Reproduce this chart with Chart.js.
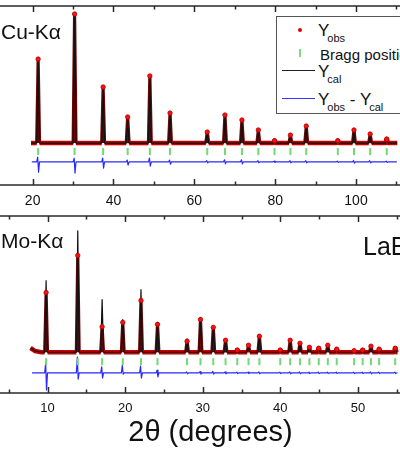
<!DOCTYPE html>
<html>
<head>
<meta charset="utf-8">
<script src="https://cdn.jsdelivr.net/npm/chart.js@4.4.1/dist/chart.umd.min.js"></script>
<style>
  html, body { margin: 0; padding: 0; background: #fff; }
  body { width: 400px; height: 450px; position: relative; overflow: hidden;
         font-family: "Liberation Sans", Arial, sans-serif; color: #111; }
  canvas { position: absolute; left: -40px; }
  #cuChart { top: 0; }
  #moChart { top: 210px; }
  .lbl { position: absolute; white-space: nowrap; line-height: 1; }
  .lbl sub { line-height: 0; }
  .leg sub { font-size: 11px; vertical-align: -6px; margin-left: -2px; }
  .legbox { position: absolute; left: 276px; top: 16px; width: 150px; height: 96px;
            border: 1px solid #555; background: #fff; }
  .mk { position: absolute; display: block; }
</style>
</head>
<body>
<canvas id="cuChart" width="500" height="212"></canvas>
<canvas id="moChart" width="500" height="240"></canvas>

<div class="lbl" style="left:1px; top:21px; font-size:21px">Cu-Kα</div>
<div class="lbl" style="left:1px; top:230px; font-size:21px">Mo-Kα</div>
<div class="lbl" style="left:363px; top:234px; font-size:25px">LaB<sub>6</sub></div>

<div class="legbox"></div>
<span class="mk" style="left:298px; top:28px; width:4px; height:4px; background:#e00000; border-radius:50%"></span>
<span class="mk" style="left:299px; top:49px; width:2px; height:8px; background:#7fdc7f"></span>
<span class="mk" style="left:282px; top:70px; width:33px; height:1px; background:#222"></span>
<span class="mk" style="left:282px; top:98px; width:33px; height:1px; background:#3535ff"></span>
<div class="lbl leg" style="left:318px; top:22px; font-size:17px">Y<sub>obs</sub></div>
<div class="lbl leg" style="left:320px; top:47px; font-size:15px">Bragg positions</div>
<div class="lbl leg" style="left:318px; top:63px; font-size:17px">Y<sub>cal</sub></div>
<div class="lbl leg" style="left:318px; top:91px; font-size:17px">Y<sub>obs</sub> - Y<sub>cal</sub></div>

<script>
// Cu-Ka pattern (LaB6 reflections), intensities in arbitrary units
const cuPeaks = [21.36, 30.38, 37.44, 43.51, 49.0, 53.99, 63.2, 67.58, 71.78, 75.84, 79.84, 83.77, 87.69, 95.5, 99.5, 103.5, 107.6];
const cuObs = [641, 985, 428, 199, 512, 229, 84, 214, 176, 100, 18, 61, 130, 18, 100, 69, 31];
const cuCal = [618, 992, 405, 176, 481, 214, 80, 195, 165, 95, 18, 58, 125, 18, 95, 65, 30];
const cuDiffUp = [36, 28, 28, 13, 28, 13, 8, 15, 15, 8, 5, 8, 8, 5, 10, 8, 5];
const cuDiffDown = [-79, -86, -48, -25, -33, -18, -8, -15, -15, -8, -5, -8, -8, -5, -10, -8, -5];
const cuBackground = [[19.6, 0], [110.2, 0]];
const cuTicks = [20, 40, 60, 80, 100];

// Mo-Ka pattern
const moPeaks = [9.81, 13.89, 17.03, 19.69, 22.04, 24.17, 27.98, 29.71, 31.36, 32.94, 34.45, 35.9, 37.3,
                 39.99, 41.27, 42.53, 43.75, 44.95, 46.12, 47.27, 49.51, 50.61, 51.68, 52.74, 54.81];
const moObs = [492, 798, 210, 246, 427, 230, 91, 270, 205, 99, 18, 58, 132,
               18, 99, 74, 41, 33, 58, 25, 12, 18, 50, 25, 33];
const moCal = [590, 1000, 434, 270, 516, 246, 110, 285, 215, 105, 20, 62, 140,
               20, 105, 80, 45, 36, 62, 28, 14, 20, 54, 28, 36];
const moDiffUp = [80, 129, 49, 63, 55, 22, 8, 10, 12, 8, 6, 6, 8, 6, 8, 8, 6, 6, 6, 6, 6, 6, 8, 6, 6];
const moDiffDown = [-142, -52, -43, -11, -43, -33, -8, -10, -10, -8, -6, -6, -8, -6, -8, -8, -6, -6, -6, -6, -6, -6, -8, -6, -6];
const moBackground = [[7.8, 35], [8.4, 10], [9.2, 0], [55.1, 0]];
const moTicks = [10, 20, 30, 40, 50];

// profile: baseline points + one narrow triangle per reflection
function buildProfile(peaks, heights, hw, background) {
    const pts = background.map(([x, y]) => ({ x, y }));
    peaks.forEach((p, i) => {
        pts.push({ x: p - hw, y: 0 }, { x: p, y: heights[i] }, { x: p + hw, y: 0 });
    });
    return pts.sort((a, b) => a.x - b.x);
}

function buildDiff(peaks, up, down, hw, offset, range) {
    const pts = [{ x: range[0], y: offset }, { x: range[1], y: offset }];
    peaks.forEach((p, i) => {
        pts.push({ x: p - hw, y: offset }, { x: p - hw * 0.3, y: offset + up[i] },
                 { x: p + hw * 0.3, y: offset + down[i] }, { x: p + hw, y: offset });
    });
    return pts.sort((a, b) => a.x - b.x);
}

// peak flanks of the observed curve are drawn darker than the baseline band
const onPeak = ctx => ctx.p0.parsed.y > 40 || ctx.p1.parsed.y > 40;

// box around the plot with inward ticks on top and bottom
const frameTicks = {
    id: 'frameTicks',
    afterDatasetsDraw(chart, args, opts) {
        const { ctx, chartArea: a, scales: { x } } = chart;
        ctx.save();
        ctx.strokeStyle = '#2a2a2a';
        ctx.lineWidth = 1.5;
        ctx.strokeRect(a.left, a.top, a.right - a.left, a.bottom - a.top);
        ctx.beginPath();
        for (let k = Math.ceil(x.min / opts.step); k * opts.step <= x.max; k++) {
            const v = k * opts.step;
            const px = Math.round(x.getPixelForValue(v)) + 0.5;
            const len = opts.major.includes(v) ? 6 : 3.5;
            ctx.moveTo(px, a.bottom); ctx.lineTo(px, a.bottom - len);
            ctx.moveTo(px, a.top); ctx.lineTo(px, a.top + len);
        }
        ctx.stroke();
        ctx.restore();
    }
};

function patternChart(id, o) {
    return new Chart(document.getElementById(id), {
        type: 'scatter',
        data: {
            datasets: [
                {
                    label: 'Yobs peaks',
                    data: o.peaks.map((p, i) => ({ x: p, y: o.obs[i] })),
                    pointRadius: 2.2,
                    pointBackgroundColor: '#ff1010',
                    pointBorderColor: '#b00000',
                    pointBorderWidth: 0.8,
                },
                {
                    label: 'Ycal',
                    data: buildProfile(o.peaks, o.cal, o.hw, o.background),
                    showLine: true,
                    pointRadius: 0,
                    borderColor: '#111',
                    borderWidth: 1.2,
                    borderJoinStyle: 'round',
                },
                {
                    label: 'Yobs',
                    data: buildProfile(o.peaks, o.obs, o.hw, o.background),
                    showLine: true,
                    pointRadius: 0,
                    borderColor: '#c40000',
                    borderWidth: 4.5,
                    borderJoinStyle: 'round',
                    segment: {
                        borderColor: ctx => onPeak(ctx) ? '#6e0505' : undefined,
                        borderWidth: ctx => onPeak(ctx) ? 3.2 : undefined,
                    },
                },
                {
                    label: 'Bragg positions',
                    data: o.peaks.map(p => ({ x: p, y: o.braggY })),
                    pointStyle: 'line',
                    rotation: 90,
                    pointRadius: 3.5,
                    borderColor: '#72d872',
                    borderWidth: 2,
                },
                {
                    label: 'Yobs - Ycal',
                    data: buildDiff(o.peaks, o.up, o.down, o.hw, o.diffY, o.diffRange),
                    showLine: true,
                    pointRadius: 0,
                    borderColor: '#2a2aff',
                    borderWidth: 1.2,
                    borderJoinStyle: 'round',
                },
            ]
        },
        options: {
            responsive: false,
            animation: false,
            devicePixelRatio: 1,
            layout: { padding: o.padding },
            plugins: {
                legend: { display: false },
                tooltip: { enabled: false },
                frameTicks: { step: o.minorStep, major: o.ticks },
            },
            scales: {
                x: {
                    type: 'linear',
                    min: o.xMin,
                    max: o.xMax,
                    grid: { display: false, drawTicks: false },
                    border: { display: false },
                    ticks: {
                        color: '#111',
                        padding: o.tickPad,
                        font: { family: '"Liberation Sans", Arial, sans-serif', size: o.tickSize },
                    },
                    afterBuildTicks: s => { s.ticks = o.ticks.map(v => ({ value: v })); },
                    afterFit: s => { s.height = o.axisHeight; },
                    title: o.title,
                },
                y: { display: false, min: o.yMin, max: o.yMax },
            }
        },
        plugins: [frameTicks]
    });
}

patternChart('cuChart', {
    peaks: cuPeaks, obs: cuObs, cal: cuCal, up: cuDiffUp, down: cuDiffDown,
    background: cuBackground, ticks: cuTicks, minorStep: 10,
    hw: 0.35, braggY: -65, diffY: -143, diffRange: [19.8, 110.1],
    xMin: 5, xMax: 123.5, yMin: -320, yMax: 1046,
    padding: { left: 12, right: 9, top: 6, bottom: 0 },
    axisHeight: 27, tickPad: 8, tickSize: 14,
    title: { display: false },
});

patternChart('moChart', {
    peaks: moPeaks, obs: moObs, cal: moCal, up: moDiffUp, down: moDiffDown,
    background: moBackground, ticks: moTicks, minorStep: 5,
    hw: 0.18, braggY: -78, diffY: -170, diffRange: [8.0, 55.1],
    xMin: 0, xMax: 62, yMin: -336, yMax: 1123,
    padding: { left: 10, right: 9, top: 5, bottom: 0 },
    axisHeight: 57, tickPad: 8, tickSize: 13,
    title: {
        display: true,
        text: '2θ (degrees)',
        color: '#111',
        padding: { top: 0, bottom: 0 },
        font: { family: '"Liberation Sans", Arial, sans-serif', size: 29 },
    },
});
</script>
</body>
</html>
